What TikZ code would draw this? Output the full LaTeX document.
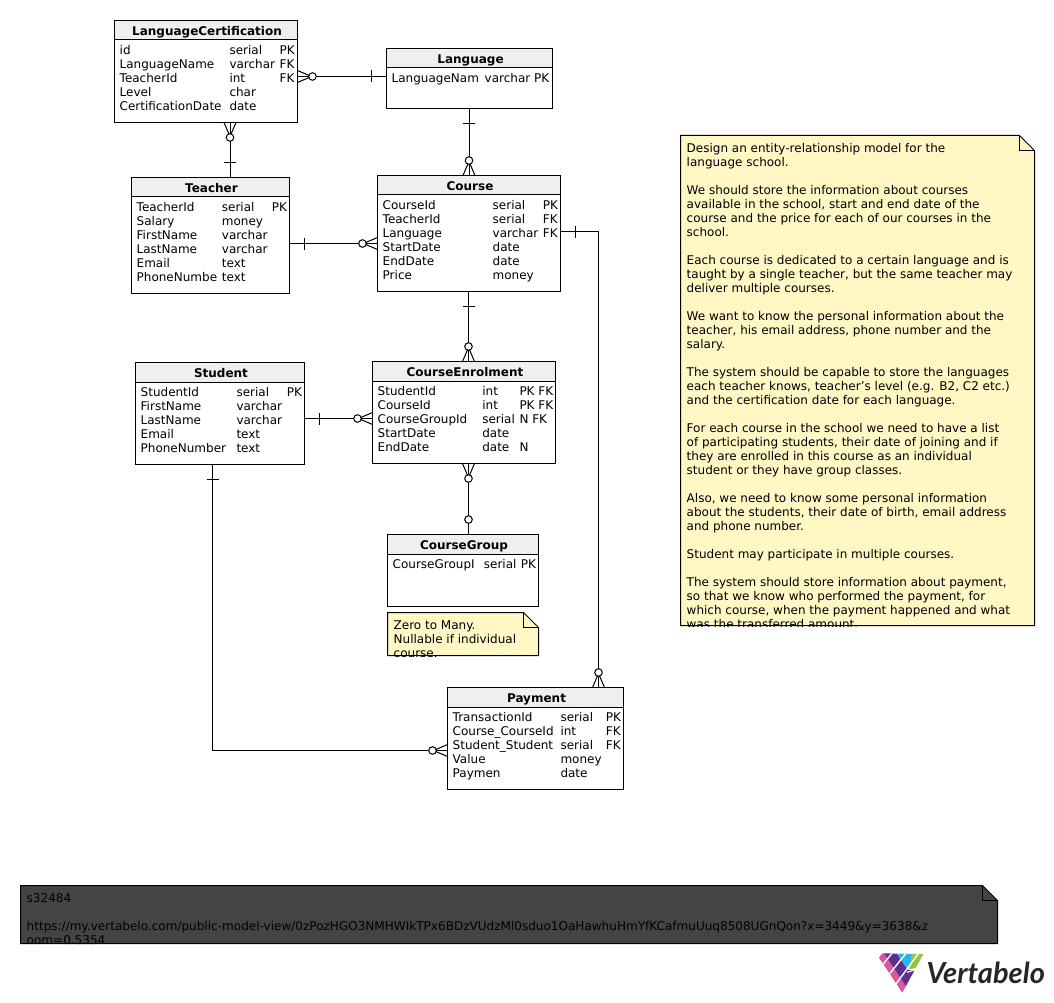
\documentclass[tikz,border=0pt]{standalone}
\usepackage{fontspec}
\setmainfont{DejaVu Sans}
\newfontfamily\logofont[BoldFeatures={FakeBold=0.7}]{Lato}
\definecolor{headergray}{HTML}{EFEFEF}
\definecolor{noteyellow}{HTML}{FFF8C4}
\definecolor{notedark}{HTML}{444444}
\definecolor{logopink}{HTML}{D6589F}
\definecolor{logopurple}{HTML}{5F2D8F}
\definecolor{logoblue}{HTML}{27B6E8}
\definecolor{logogreen}{HTML}{8FC642}
\tikzset{
  tablebox/.style={draw, line width=1pt, anchor=north west, inner sep=0pt, outer sep=0pt},
  celltext/.style={anchor=base west, inner sep=0pt, font=\fontsize{12}{14}\selectfont},
  titletext/.style={anchor=base, inner sep=0pt, font=\fontsize{12}{14}\selectfont\bfseries},
  notetext/.style={anchor=north west, inner sep=0pt, align=left, font=\fontsize{12}{14}\selectfont},
  manyend/.pic={
    \draw[line width=1pt] (0,-6) -- (14,0) -- (0,6);
    \draw[line width=1pt, fill=white] (15,0) circle (3.8);
  },
  zeroend/.pic={\draw[line width=1pt, fill=white] (15,0) circle (3.8);},
  oneend/.pic={\draw[line width=1pt] (15,-6) -- (15,6);}
}
\newcommand{\erbox}[6]{% name, x, y, width, height, title
  \draw[fill=headergray, line width=1pt] (#2,#3) rectangle +(#4,19.5);
  \node[tablebox, minimum width=#4pt, minimum height=#5pt] (#1) at (#2,#3) {};
  \node[titletext] (#1title) at ({#2+#4/2+1},{#3+15.2}) {#6};
}
\newcommand{\keyrow}[5]{% id, row, name, type, key
  \node[celltext] (#1n) at (5,{34.3+14*#2}) {#3};
  \node[celltext] (#1t) at (\typecol,{34.3+14*#2}) {#4};
  \node[celltext] (#1k) at (\keycol,{34.3+14*#2}) {#5};
}
\newcommand{\plainrow}[4]{% id, row, name, type
  \node[celltext] (#1n) at (5,{34.3+14*#2}) {#3};
  \node[celltext] (#1t) at (\typecol,{34.3+14*#2}) {#4};
}
\begin{document}
\begin{tikzpicture}[x=1pt,y=-1pt]
\useasboundingbox (0,0) rectangle (1054,1003);

% TABLES
\erbox{langcert}{114.5}{20.5}{183}{102}{LanguageCertification}
\begin{scope}[shift={(114.5,20.5)}]
\def\typecol{114.8}
\def\keycol{165}
\keyrow{lca}{0}{id}{serial}{PK}
\keyrow{lcb}{1}{LanguageName}{varchar}{FK}
\keyrow{lcc}{2}{TeacherId}{int}{FK}
\plainrow{lcd}{3}{Level}{char}
\plainrow{lce}{4}{CertificationDate}{date}
\end{scope}

\erbox{language}{386.5}{48.5}{166}{60}{Language}
\begin{scope}[shift={(386.5,48.5)}]
\def\typecol{98}
\def\keycol{147.5}
\keyrow{laa}{0}{LanguageNam}{varchar}{PK}
\end{scope}

\erbox{teacher}{131.5}{177.5}{158}{116}{Teacher}
\begin{scope}[shift={(131.5,177.5)}]
\def\typecol{90.2}
\def\keycol{140.1}
\keyrow{tea}{0}{TeacherId}{serial}{PK}
\plainrow{teb}{1}{Salary}{money}
\plainrow{tec}{2}{FirstName}{varchar}
\plainrow{ted}{3}{LastName}{varchar}
\plainrow{tee}{4}{Email}{text}
\plainrow{tef}{5}{PhoneNumbe}{text}
\end{scope}

\erbox{course}{377.5}{175.5}{183}{116}{Course}
\begin{scope}[shift={(377.5,175.5)}]
\def\typecol{115}
\def\keycol{165.2}
\keyrow{coa}{0}{CourseId}{serial}{PK}
\keyrow{cob}{1}{TeacherId}{serial}{FK}
\keyrow{coc}{2}{Language}{varchar}{FK}
\plainrow{cod}{3}{StartDate}{date}
\plainrow{coe}{4}{EndDate}{date}
\plainrow{cof}{5}{Price}{money}
\end{scope}

\erbox{student}{135.5}{362.5}{169}{102}{Student}
\begin{scope}[shift={(135.5,362.5)}]
\def\typecol{100.8}
\def\keycol{151.2}
\keyrow{sta}{0}{StudentId}{serial}{PK}
\plainrow{stb}{1}{FirstName}{varchar}
\plainrow{stc}{2}{LastName}{varchar}
\plainrow{std}{3}{Email}{text}
\plainrow{ste}{4}{PhoneNumber}{text}
\end{scope}

\erbox{enrolment}{372.5}{361.5}{183}{102}{CourseEnrolment}
\begin{scope}[shift={(372.5,361.5)}]
\def\typecol{109.6}
\def\keycol{146.8}
\keyrow{ena}{0}{StudentId}{int}{PK FK}
\keyrow{enb}{1}{CourseId}{int}{PK FK}
\keyrow{enc}{2}{CourseGroupId}{serial}{N FK}
\plainrow{end}{3}{StartDate}{date}
\keyrow{ene}{4}{EndDate}{date}{N}
\end{scope}

\erbox{coursegroup}{387.5}{534.5}{151}{72}{CourseGroup}
\begin{scope}[shift={(387.5,534.5)}]
\def\typecol{96.2}
\def\keycol{133.2}
\keyrow{cga}{0}{CourseGroupI}{serial}{PK}
\end{scope}

\erbox{payment}{447.5}{687.5}{176}{102}{Payment}
\begin{scope}[shift={(447.5,687.5)}]
\def\typecol{112.8}
\def\keycol{158.2}
\keyrow{paa}{0}{TransactionId}{serial}{PK}
\keyrow{pab}{1}{Course\_CourseId}{int}{FK}
\keyrow{pac}{2}{Student\_Student}{serial}{FK}
\plainrow{pad}{3}{Value}{money}
\plainrow{pae}{4}{Paymen}{date}
\end{scope}

% CONNECTORS
\coordinate (lcright) at (langcert.east |- 0,76.5);
\coordinate (laleft) at (language.west |- 0,76.5);
\draw[line width=1pt] (lcright) -- (laleft);
\pic at (lcright) {manyend};
\pic[rotate=180] at (laleft) {oneend};

\coordinate (lcbottom) at (langcert.south -| 230,0);
\coordinate (tetop) at (teacher.north -| 230,0);
\draw[line width=1pt] (lcbottom) -- (tetop);
\pic[rotate=-90] at (lcbottom) {manyend};
\pic[rotate=90] at (tetop) {oneend};

\coordinate (labottom) at (language.south -| 469,0);
\coordinate (cotop) at (course.north -| 469,0);
\draw[line width=1pt] (labottom) -- (cotop);
\pic[rotate=-90] at (labottom) {oneend};
\pic[rotate=90] at (cotop) {manyend};

\coordinate (teright) at (teacher.east |- 0,243.5);
\coordinate (coleft) at (course.west |- 0,243.5);
\draw[line width=1pt] (teright) -- (coleft);
\pic at (teright) {oneend};
\pic[rotate=180] at (coleft) {manyend};

\coordinate (cobottom) at (course.south -| 468.5,0);
\coordinate (entop) at (enrolment.north -| 468.5,0);
\draw[line width=1pt] (cobottom) -- (entop);
\pic[rotate=-90] at (cobottom) {oneend};
\pic[rotate=90] at (entop) {manyend};

\coordinate (stright) at (student.east |- 0,418.5);
\coordinate (enleft) at (enrolment.west |- 0,418.5);
\draw[line width=1pt] (stright) -- (enleft);
\pic at (stright) {oneend};
\pic[rotate=180] at (enleft) {manyend};

\coordinate (enbottom) at (enrolment.south -| 468.5,0);
\coordinate (cgtop) at (coursegroup.north -| 468.5,0);
\draw[line width=1pt] (enbottom) -- (cgtop);
\pic[rotate=-90] at (enbottom) {manyend};
\pic[rotate=90] at (cgtop) {zeroend};

\coordinate (coright) at (course.east |- 0,231.5);
\coordinate (patop) at (payment.north -| 598.5,0);
\draw[line width=1pt] (coright) -| (patop);
\pic at (coright) {oneend};
\pic[rotate=90] at (patop) {manyend};

\coordinate (stbottom) at (student.south -| 212.5,0);
\coordinate (paleft) at (payment.west |- 0,750.5);
\draw[line width=1pt] (stbottom) |- (paleft);
\pic[rotate=-90] at (stbottom) {oneend};
\pic[rotate=180] at (paleft) {manyend};

% NOTES
\draw[fill=noteyellow, line width=1pt] (680.5,135.5) -- (1019.5,135.5) -- (1034.5,150.5) -- (1034.5,625.5) -- (680.5,625.5) -- cycle;
\draw[line width=1pt] (1019.5,135.5) -- (1019.5,150.5) -- (1034.5,150.5);
\begin{scope}
\clip (680,135) rectangle (1035,626.5);
\node[notetext] (tasknote) at (686.5,142.8) {Design an entity-relationship model for the\\
language school.\\[14pt]
We should store the information about courses\\
available in the school, start and end date of the\\
course and the price for each of our courses in the\\
school.\\[14pt]
Each course is dedicated to a certain language and is\\
taught by a single teacher, but the same teacher may\\
deliver multiple courses.\\[14pt]
We want to know the personal information about the\\
teacher, his email address, phone number and the\\
salary.\\[14pt]
The system should be capable to store the languages\\
each teacher knows, teacher’s level (e.g. B2, C2 etc.)\\
and the certification date for each language.\\[14pt]
For each course in the school we need to have a list\\
of participating students, their date of joining and if\\
they are enrolled in this course as an individual\\
student or they have group classes.\\[14pt]
Also, we need to know some personal information\\
about the students, their date of birth, email address\\
and phone number.\\[14pt]
Student may participate in multiple courses.\\[14pt]
The system should store information about payment,\\
so that we know who performed the payment, for\\
which course, when the payment happened and what\\
was the transferred amount.};
\end{scope}

\draw[fill=noteyellow, line width=1pt] (387.5,612.5) -- (523.5,612.5) -- (538.5,627.5) -- (538.5,655.5) -- (387.5,655.5) -- cycle;
\draw[line width=1pt] (523.5,612.5) -- (523.5,627.5) -- (538.5,627.5);
\begin{scope}
\clip (387,612) rectangle (539,656);
\node[notetext] (groupnote) at (393.5,620.2) {Zero to Many.\\
Nullable if individual\\
course.};
\end{scope}

\draw[fill=notedark, line width=1pt] (20.5,885.5) -- (982.5,885.5) -- (997.5,900.5) -- (997.5,943.5) -- (20.5,943.5) -- cycle;
\draw[line width=1pt] (982.5,885.5) -- (982.5,900.5) -- (997.5,900.5);
\begin{scope}
\clip (20,885) rectangle (998,944);
\node[notetext, font=\fontsize{12.04}{14}\selectfont] (linknote) at (26.5,893) {s32484\\[14pt]
https://my.vertabelo.com/public-model-view/0zPozHGO3NMHWIkTPx6BDzVUdzMl0sduo1OaHawhuHmYfKCafmuUuq8508UGnQon?x=3449\&y=3638\&z\\
oom=0.5354};
\end{scope}

% LOGO
\begin{scope}[shift={(870,945)}, x=0.3333pt, y=-0.3333pt]
\clip (27,38) -- (37,25) -- (160,27) -- (97,143) -- cycle;
\fill[logopink] (20,20) -- (42,25) -- (118,139) -- (100,150) -- (20,60) -- cycle;
\fill[logopurple] (42,25) -- (80,25) -- (112,73) -- (140,80) -- (140,115) -- (118,139) -- cycle;
\fill[logoblue] (80,25) -- (135,25) -- (135,60) -- (110,70) -- cycle;
\fill[logogreen] (125,25) -- (165,25) -- (165,65) -- (118,72) -- cycle;
\draw[white, line width=1.4pt] (34,64) -- (70,20);
\draw[white, line width=1.4pt] (54,92) -- (112,20);
\draw[white, line width=1.4pt] (74,122) -- (148,22);
\draw[white, line width=1.2pt] (112,82) -- (150,68);
\end{scope}
\node[anchor=base west, inner sep=0pt, font=\logofont\fontsize{29}{29}\selectfont\bfseries\itshape, text=black!85] (logotext) at (926.3,983) {Vertabelo};
\end{tikzpicture}
\end{document}
